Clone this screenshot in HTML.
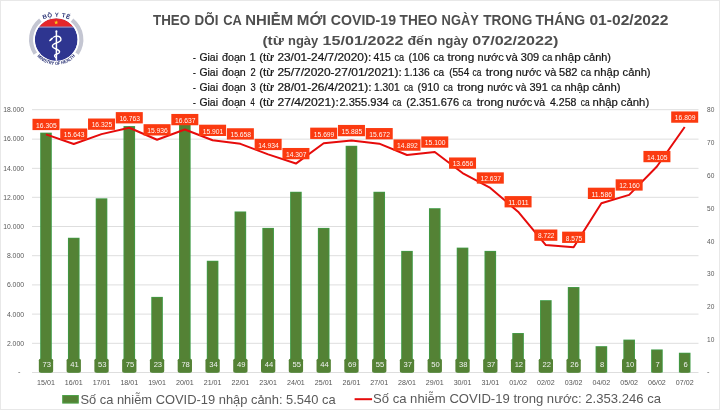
<!DOCTYPE html><html><head><meta charset="utf-8"><style>html,body{margin:0;padding:0;background:#fff}svg{display:block;will-change:transform}text{font-family:"Liberation Sans",sans-serif}</style></head><body>
<svg width="720" height="410" viewBox="0 0 720 410">
<rect x="0" y="0" width="720" height="410" fill="#fff"/>
<rect x="0.5" y="0.5" width="719" height="409" fill="none" stroke="#e8e8e8" stroke-width="1"/>
<g>
<path d="M 33.65 54.81 A 27.2 27.2 0 0 1 39.08 18.46 L 41.66 21.65 A 23.1 23.1 0 0 0 37.05 52.52 Z" fill="#c4c6d2"/>
<path d="M 73.32 18.46 A 27.2 27.2 0 0 1 78.75 54.81 L 75.35 52.52 A 23.1 23.1 0 0 0 70.74 21.65 Z" fill="#c4c6d2"/>
<circle cx="56.2" cy="39.6" r="21.4" fill="#2e3590"/>
<clipPath id="lc"><circle cx="56.2" cy="39.6" r="21.4"/></clipPath>
<rect x="34.2" y="17.6" width="44" height="9.1" fill="#e5262a" clip-path="url(#lc)"/>
<rect x="34.2" y="26.700000000000003" width="44" height="0.7" fill="#d8d8ee" clip-path="url(#lc)"/>
<circle cx="56.2" cy="39.6" r="22.0" fill="none" stroke="#fff" stroke-width="1.2"/>
<polygon points="56.20,20.30 56.73,21.77 58.29,21.82 57.06,22.78 57.49,24.28 56.20,23.40 54.91,24.28 55.34,22.78 54.11,21.82 55.67,21.77" fill="#f5d21a"/>
<line x1="56.4" y1="31.5" x2="56.4" y2="60.8" stroke="#fff" stroke-width="1.5"/>
<circle cx="56.4" cy="31.4" r="1.05" fill="#fff"/>
<path d="M 53.2 37.6 C 55 35.2 61.3 35.6 60.9 39.8 C 60.5 43 52.4 42.6 52.4 46 C 52.4 49.4 59.6 48.6 59.6 52 C 59.6 54.4 54.5 53.6 54.5 55.7 C 54.5 57 56.4 57.4 56.4 58.6" fill="none" stroke="#fff" stroke-width="1.35"/>
<ellipse cx="51.1" cy="39.4" rx="2.5" ry="0.95" transform="rotate(-42 51.1 39.4)" fill="#fff"/>
<path id="arct" d="M 35.95 23.18 A 35.3 35.3 0 0 1 76.45 23.18" fill="none"/>
<text font-size="6.0" font-weight="bold" fill="#232c70"><textPath href="#arct" startOffset="50%" text-anchor="middle" textLength="26.6" lengthAdjust="spacing">BỘ Y TẾ</textPath></text>
<path id="arcb" d="M 31.76 46.15 A 25.3 25.3 0 0 0 80.64 46.15" fill="none"/>
<text font-size="4.7" font-weight="bold" fill="#232c70"><textPath href="#arcb" startOffset="50%" text-anchor="middle" textLength="43" lengthAdjust="spacingAndGlyphs">MINISTRY OF HEALTH</textPath></text>
</g>
<text x="153.00" y="25.1" font-size="14.6" font-weight="bold" fill="#4e4e4e" textLength="37.20" lengthAdjust="spacingAndGlyphs">THEO</text>
<text x="194.60" y="25.1" font-size="14.6" font-weight="bold" fill="#4e4e4e" textLength="23.80" lengthAdjust="spacingAndGlyphs">DÕI</text>
<text x="223.20" y="25.1" font-size="14.6" font-weight="bold" fill="#4e4e4e" textLength="18.60" lengthAdjust="spacingAndGlyphs">CA</text>
<text x="245.20" y="25.1" font-size="14.6" font-weight="bold" fill="#4e4e4e" textLength="48.00" lengthAdjust="spacingAndGlyphs">NHIỄM</text>
<text x="296.80" y="25.1" font-size="14.6" font-weight="bold" fill="#4e4e4e" textLength="29.80" lengthAdjust="spacingAndGlyphs">MỚI</text>
<text x="330.80" y="25.1" font-size="14.6" font-weight="bold" fill="#4e4e4e" textLength="65.20" lengthAdjust="spacingAndGlyphs">COVID-19</text>
<text x="399.60" y="25.1" font-size="14.6" font-weight="bold" fill="#4e4e4e" textLength="37.80" lengthAdjust="spacingAndGlyphs">THEO</text>
<text x="441.60" y="25.1" font-size="14.6" font-weight="bold" fill="#4e4e4e" textLength="37.20" lengthAdjust="spacingAndGlyphs">NGÀY</text>
<text x="483.20" y="25.1" font-size="14.6" font-weight="bold" fill="#4e4e4e" textLength="49.00" lengthAdjust="spacingAndGlyphs">TRONG</text>
<text x="535.60" y="25.1" font-size="14.6" font-weight="bold" fill="#4e4e4e" textLength="49.60" lengthAdjust="spacingAndGlyphs">THÁNG</text>
<text x="589.40" y="25.1" font-size="14.6" font-weight="bold" fill="#4e4e4e" textLength="79.00" lengthAdjust="spacingAndGlyphs">01-02/2022</text>
<text x="262.40" y="45.1" font-size="13.4" font-weight="bold" fill="#4e4e4e" textLength="21.40" lengthAdjust="spacingAndGlyphs">(từ</text>
<text x="288.00" y="45.1" font-size="13.4" font-weight="bold" fill="#4e4e4e" textLength="30.20" lengthAdjust="spacingAndGlyphs">ngày</text>
<text x="322.60" y="45.1" font-size="13.4" font-weight="bold" fill="#4e4e4e" textLength="80.80" lengthAdjust="spacingAndGlyphs">15/01/2022</text>
<text x="407.40" y="45.1" font-size="13.4" font-weight="bold" fill="#4e4e4e" textLength="25.20" lengthAdjust="spacingAndGlyphs">đến</text>
<text x="437.20" y="45.1" font-size="13.4" font-weight="bold" fill="#4e4e4e" textLength="31.00" lengthAdjust="spacingAndGlyphs">ngày</text>
<text x="472.20" y="45.1" font-size="13.4" font-weight="bold" fill="#4e4e4e" textLength="86.20" lengthAdjust="spacingAndGlyphs">07/02/2022)</text>
<text x="193.00" y="61.2" font-size="10.0" fill="#161616" stroke="#161616" stroke-width="0.2" textLength="2.80" lengthAdjust="spacingAndGlyphs">-</text>
<text x="199.40" y="61.2" font-size="10.0" fill="#161616" stroke="#161616" stroke-width="0.2" textLength="18.60" lengthAdjust="spacingAndGlyphs">Giai</text>
<text x="222.00" y="61.2" font-size="10.0" fill="#161616" stroke="#161616" stroke-width="0.2" textLength="23.80" lengthAdjust="spacingAndGlyphs">đoạn</text>
<text x="249.60" y="61.2" font-size="10.0" fill="#161616" stroke="#161616" stroke-width="0.2" textLength="6.20" lengthAdjust="spacingAndGlyphs">1</text>
<text x="259.20" y="61.2" font-size="10.0" fill="#161616" stroke="#161616" stroke-width="0.2" textLength="15.00" lengthAdjust="spacingAndGlyphs">(từ</text>
<text x="277.40" y="61.2" font-size="10.0" fill="#161616" stroke="#161616" stroke-width="0.2" textLength="93.80" lengthAdjust="spacingAndGlyphs">23/01-24/7/2020):</text>
<text x="373.40" y="61.2" font-size="10.0" fill="#161616" stroke="#161616" stroke-width="0.2" textLength="17.40" lengthAdjust="spacingAndGlyphs">415</text>
<text x="394.40" y="61.2" font-size="10.0" fill="#161616" stroke="#161616" stroke-width="0.2" textLength="9.60" lengthAdjust="spacingAndGlyphs">ca</text>
<text x="408.40" y="61.2" font-size="10.0" fill="#161616" stroke="#161616" stroke-width="0.2" textLength="21.20" lengthAdjust="spacingAndGlyphs">(106</text>
<text x="433.40" y="61.2" font-size="10.0" fill="#161616" stroke="#161616" stroke-width="0.2" textLength="10.60" lengthAdjust="spacingAndGlyphs">ca</text>
<text x="447.40" y="61.2" font-size="10.0" fill="#161616" stroke="#161616" stroke-width="0.2" textLength="26.80" lengthAdjust="spacingAndGlyphs">trong</text>
<text x="477.60" y="61.2" font-size="10.0" fill="#161616" stroke="#161616" stroke-width="0.2" textLength="26.20" lengthAdjust="spacingAndGlyphs">nước</text>
<text x="505.80" y="61.2" font-size="10.0" fill="#161616" stroke="#161616" stroke-width="0.2" textLength="12.00" lengthAdjust="spacingAndGlyphs">và</text>
<text x="520.80" y="61.2" font-size="10.0" fill="#161616" stroke="#161616" stroke-width="0.2" textLength="18.40" lengthAdjust="spacingAndGlyphs">309</text>
<text x="542.20" y="61.2" font-size="10.0" fill="#161616" stroke="#161616" stroke-width="0.2" textLength="10.20" lengthAdjust="spacingAndGlyphs">ca</text>
<text x="554.80" y="61.2" font-size="10.0" fill="#161616" stroke="#161616" stroke-width="0.2" textLength="25.80" lengthAdjust="spacingAndGlyphs">nhập</text>
<text x="583.60" y="61.2" font-size="10.0" fill="#161616" stroke="#161616" stroke-width="0.2" textLength="27.40" lengthAdjust="spacingAndGlyphs">cảnh)</text>
<text x="193.00" y="75.8" font-size="10.0" fill="#161616" stroke="#161616" stroke-width="0.2" textLength="2.80" lengthAdjust="spacingAndGlyphs">-</text>
<text x="199.40" y="75.8" font-size="10.0" fill="#161616" stroke="#161616" stroke-width="0.2" textLength="18.60" lengthAdjust="spacingAndGlyphs">Giai</text>
<text x="222.00" y="75.8" font-size="10.0" fill="#161616" stroke="#161616" stroke-width="0.2" textLength="23.80" lengthAdjust="spacingAndGlyphs">đoạn</text>
<text x="250.60" y="75.8" font-size="10.0" fill="#161616" stroke="#161616" stroke-width="0.2" textLength="5.20" lengthAdjust="spacingAndGlyphs">2</text>
<text x="259.20" y="75.8" font-size="10.0" fill="#161616" stroke="#161616" stroke-width="0.2" textLength="15.00" lengthAdjust="spacingAndGlyphs">(từ</text>
<text x="277.40" y="75.8" font-size="10.0" fill="#161616" stroke="#161616" stroke-width="0.2" textLength="124.40" lengthAdjust="spacingAndGlyphs">25/7/2020-27/01/2021):</text>
<text x="404.00" y="75.8" font-size="10.0" fill="#161616" stroke="#161616" stroke-width="0.2" textLength="25.60" lengthAdjust="spacingAndGlyphs">1.136</text>
<text x="433.40" y="75.8" font-size="10.0" fill="#161616" stroke="#161616" stroke-width="0.2" textLength="10.60" lengthAdjust="spacingAndGlyphs">ca</text>
<text x="449.20" y="75.8" font-size="10.0" fill="#161616" stroke="#161616" stroke-width="0.2" textLength="20.00" lengthAdjust="spacingAndGlyphs">(554</text>
<text x="472.60" y="75.8" font-size="10.0" fill="#161616" stroke="#161616" stroke-width="0.2" textLength="8.80" lengthAdjust="spacingAndGlyphs">ca</text>
<text x="485.80" y="75.8" font-size="10.0" fill="#161616" stroke="#161616" stroke-width="0.2" textLength="27.00" lengthAdjust="spacingAndGlyphs">trong</text>
<text x="515.80" y="75.8" font-size="10.0" fill="#161616" stroke="#161616" stroke-width="0.2" textLength="25.60" lengthAdjust="spacingAndGlyphs">nước</text>
<text x="544.80" y="75.8" font-size="10.0" fill="#161616" stroke="#161616" stroke-width="0.2" textLength="11.60" lengthAdjust="spacingAndGlyphs">và</text>
<text x="559.00" y="75.8" font-size="10.0" fill="#161616" stroke="#161616" stroke-width="0.2" textLength="18.40" lengthAdjust="spacingAndGlyphs">582</text>
<text x="580.80" y="75.8" font-size="10.0" fill="#161616" stroke="#161616" stroke-width="0.2" textLength="10.20" lengthAdjust="spacingAndGlyphs">ca</text>
<text x="594.00" y="75.8" font-size="10.0" fill="#161616" stroke="#161616" stroke-width="0.2" textLength="25.20" lengthAdjust="spacingAndGlyphs">nhập</text>
<text x="622.60" y="75.8" font-size="10.0" fill="#161616" stroke="#161616" stroke-width="0.2" textLength="28.00" lengthAdjust="spacingAndGlyphs">cảnh)</text>
<text x="193.00" y="91.0" font-size="10.0" fill="#161616" stroke="#161616" stroke-width="0.2" textLength="2.80" lengthAdjust="spacingAndGlyphs">-</text>
<text x="199.40" y="91.0" font-size="10.0" fill="#161616" stroke="#161616" stroke-width="0.2" textLength="18.60" lengthAdjust="spacingAndGlyphs">Giai</text>
<text x="222.00" y="91.0" font-size="10.0" fill="#161616" stroke="#161616" stroke-width="0.2" textLength="23.80" lengthAdjust="spacingAndGlyphs">đoạn</text>
<text x="250.60" y="91.0" font-size="10.0" fill="#161616" stroke="#161616" stroke-width="0.2" textLength="5.20" lengthAdjust="spacingAndGlyphs">3</text>
<text x="259.20" y="91.0" font-size="10.0" fill="#161616" stroke="#161616" stroke-width="0.2" textLength="15.00" lengthAdjust="spacingAndGlyphs">(từ</text>
<text x="277.40" y="91.0" font-size="10.0" fill="#161616" stroke="#161616" stroke-width="0.2" textLength="94.20" lengthAdjust="spacingAndGlyphs">28/01-26/4/2021):</text>
<text x="374.00" y="91.0" font-size="10.0" fill="#161616" stroke="#161616" stroke-width="0.2" textLength="25.60" lengthAdjust="spacingAndGlyphs">1.301</text>
<text x="404.00" y="91.0" font-size="10.0" fill="#161616" stroke="#161616" stroke-width="0.2" textLength="9.20" lengthAdjust="spacingAndGlyphs">ca</text>
<text x="417.60" y="91.0" font-size="10.0" fill="#161616" stroke="#161616" stroke-width="0.2" textLength="21.60" lengthAdjust="spacingAndGlyphs">(910</text>
<text x="443.60" y="91.0" font-size="10.0" fill="#161616" stroke="#161616" stroke-width="0.2" textLength="9.20" lengthAdjust="spacingAndGlyphs">ca</text>
<text x="457.20" y="91.0" font-size="10.0" fill="#161616" stroke="#161616" stroke-width="0.2" textLength="26.60" lengthAdjust="spacingAndGlyphs">trong</text>
<text x="487.20" y="91.0" font-size="10.0" fill="#161616" stroke="#161616" stroke-width="0.2" textLength="25.60" lengthAdjust="spacingAndGlyphs">nước</text>
<text x="515.60" y="91.0" font-size="10.0" fill="#161616" stroke="#161616" stroke-width="0.2" textLength="10.80" lengthAdjust="spacingAndGlyphs">và</text>
<text x="529.40" y="91.0" font-size="10.0" fill="#161616" stroke="#161616" stroke-width="0.2" textLength="18.40" lengthAdjust="spacingAndGlyphs">391</text>
<text x="551.20" y="91.0" font-size="10.0" fill="#161616" stroke="#161616" stroke-width="0.2" textLength="10.20" lengthAdjust="spacingAndGlyphs">ca</text>
<text x="564.40" y="91.0" font-size="10.0" fill="#161616" stroke="#161616" stroke-width="0.2" textLength="24.80" lengthAdjust="spacingAndGlyphs">nhập</text>
<text x="592.20" y="91.0" font-size="10.0" fill="#161616" stroke="#161616" stroke-width="0.2" textLength="28.40" lengthAdjust="spacingAndGlyphs">cảnh)</text>
<text x="193.00" y="105.6" font-size="10.0" fill="#161616" stroke="#161616" stroke-width="0.2" textLength="2.80" lengthAdjust="spacingAndGlyphs">-</text>
<text x="199.40" y="105.6" font-size="10.0" fill="#161616" stroke="#161616" stroke-width="0.2" textLength="18.60" lengthAdjust="spacingAndGlyphs">Giai</text>
<text x="222.00" y="105.6" font-size="10.0" fill="#161616" stroke="#161616" stroke-width="0.2" textLength="23.80" lengthAdjust="spacingAndGlyphs">đoạn</text>
<text x="250.60" y="105.6" font-size="10.0" fill="#161616" stroke="#161616" stroke-width="0.2" textLength="4.20" lengthAdjust="spacingAndGlyphs">4</text>
<text x="259.20" y="105.6" font-size="10.0" fill="#161616" stroke="#161616" stroke-width="0.2" textLength="15.00" lengthAdjust="spacingAndGlyphs">(từ</text>
<text x="277.40" y="105.6" font-size="10.0" fill="#161616" stroke="#161616" stroke-width="0.2" textLength="61.40" lengthAdjust="spacingAndGlyphs">27/4/2021):</text>
<text x="339.40" y="105.6" font-size="10.0" fill="#161616" stroke="#161616" stroke-width="0.2" textLength="49.40" lengthAdjust="spacingAndGlyphs">2.355.934</text>
<text x="392.60" y="105.6" font-size="10.0" fill="#161616" stroke="#161616" stroke-width="0.2" textLength="8.80" lengthAdjust="spacingAndGlyphs">ca</text>
<text x="406.20" y="105.6" font-size="10.0" fill="#161616" stroke="#161616" stroke-width="0.2" textLength="53.00" lengthAdjust="spacingAndGlyphs">(2.351.676</text>
<text x="462.60" y="105.6" font-size="10.0" fill="#161616" stroke="#161616" stroke-width="0.2" textLength="8.80" lengthAdjust="spacingAndGlyphs">ca</text>
<text x="476.80" y="105.6" font-size="10.0" fill="#161616" stroke="#161616" stroke-width="0.2" textLength="26.80" lengthAdjust="spacingAndGlyphs">trong</text>
<text x="506.20" y="105.6" font-size="10.0" fill="#161616" stroke="#161616" stroke-width="0.2" textLength="26.20" lengthAdjust="spacingAndGlyphs">nước</text>
<text x="534.00" y="105.6" font-size="10.0" fill="#161616" stroke="#161616" stroke-width="0.2" textLength="11.00" lengthAdjust="spacingAndGlyphs">và</text>
<text x="550.00" y="105.6" font-size="10.0" fill="#161616" stroke="#161616" stroke-width="0.2" textLength="26.40" lengthAdjust="spacingAndGlyphs">4.258</text>
<text x="580.80" y="105.6" font-size="10.0" fill="#161616" stroke="#161616" stroke-width="0.2" textLength="8.80" lengthAdjust="spacingAndGlyphs">ca</text>
<text x="592.60" y="105.6" font-size="10.0" fill="#161616" stroke="#161616" stroke-width="0.2" textLength="25.20" lengthAdjust="spacingAndGlyphs">nhập</text>
<text x="620.80" y="105.6" font-size="10.0" fill="#161616" stroke="#161616" stroke-width="0.2" textLength="28.40" lengthAdjust="spacingAndGlyphs">cảnh)</text>
<line x1="32" y1="372.50" x2="698.5" y2="372.50" stroke="#dedede" stroke-width="1"/>
<line x1="32" y1="343.30" x2="698.5" y2="343.30" stroke="#dedede" stroke-width="1"/>
<line x1="32" y1="314.10" x2="698.5" y2="314.10" stroke="#dedede" stroke-width="1"/>
<line x1="32" y1="284.90" x2="698.5" y2="284.90" stroke="#dedede" stroke-width="1"/>
<line x1="32" y1="255.70" x2="698.5" y2="255.70" stroke="#dedede" stroke-width="1"/>
<line x1="32" y1="226.50" x2="698.5" y2="226.50" stroke="#dedede" stroke-width="1"/>
<line x1="32" y1="197.30" x2="698.5" y2="197.30" stroke="#dedede" stroke-width="1"/>
<line x1="32" y1="168.35" x2="698.5" y2="168.35" stroke="#dedede" stroke-width="1"/>
<line x1="32" y1="139.15" x2="698.5" y2="139.15" stroke="#dedede" stroke-width="1"/>
<line x1="32" y1="109.70" x2="698.5" y2="109.70" stroke="#dedede" stroke-width="1"/>
<text x="20.4" y="374.4" font-size="7.4" fill="#595959" text-anchor="end">-</text>
<text x="24.1" y="345.8" font-size="7" fill="#595959" text-anchor="end" textLength="17.2" lengthAdjust="spacingAndGlyphs">2.000</text>
<text x="24.1" y="316.6" font-size="7" fill="#595959" text-anchor="end" textLength="17.2" lengthAdjust="spacingAndGlyphs">4.000</text>
<text x="24.1" y="287.4" font-size="7" fill="#595959" text-anchor="end" textLength="17.2" lengthAdjust="spacingAndGlyphs">6.000</text>
<text x="24.1" y="258.1" font-size="7" fill="#595959" text-anchor="end" textLength="17.2" lengthAdjust="spacingAndGlyphs">8.000</text>
<text x="24.1" y="228.9" font-size="7" fill="#595959" text-anchor="end" textLength="20.8" lengthAdjust="spacingAndGlyphs">10.000</text>
<text x="24.1" y="199.8" font-size="7" fill="#595959" text-anchor="end" textLength="20.8" lengthAdjust="spacingAndGlyphs">12.000</text>
<text x="24.1" y="170.5" font-size="7" fill="#595959" text-anchor="end" textLength="20.8" lengthAdjust="spacingAndGlyphs">14.000</text>
<text x="24.1" y="141.3" font-size="7" fill="#595959" text-anchor="end" textLength="20.8" lengthAdjust="spacingAndGlyphs">16.000</text>
<text x="24.1" y="112.1" font-size="7" fill="#595959" text-anchor="end" textLength="20.8" lengthAdjust="spacingAndGlyphs">18.000</text>
<text x="707" y="374.4" font-size="7.4" fill="#595959">-</text>
<text x="707" y="342.1" font-size="7" fill="#595959" textLength="7.3" lengthAdjust="spacingAndGlyphs">10</text>
<text x="707" y="309.2" font-size="7" fill="#595959" textLength="7.3" lengthAdjust="spacingAndGlyphs">20</text>
<text x="707" y="276.4" font-size="7" fill="#595959" textLength="7.3" lengthAdjust="spacingAndGlyphs">30</text>
<text x="707" y="243.5" font-size="7" fill="#595959" textLength="7.3" lengthAdjust="spacingAndGlyphs">40</text>
<text x="707" y="210.7" font-size="7" fill="#595959" textLength="7.3" lengthAdjust="spacingAndGlyphs">50</text>
<text x="707" y="177.8" font-size="7" fill="#595959" textLength="7.3" lengthAdjust="spacingAndGlyphs">60</text>
<text x="707" y="145.0" font-size="7" fill="#595959" textLength="7.3" lengthAdjust="spacingAndGlyphs">70</text>
<text x="707" y="112.1" font-size="7" fill="#595959" textLength="7.3" lengthAdjust="spacingAndGlyphs">80</text>
<rect x="40.19" y="132.64" width="11.6" height="239.81" fill="#3f9b45"/>
<rect x="41.09" y="133.44" width="9.8" height="239.00" fill="#548235"/>
<rect x="67.95" y="237.76" width="11.6" height="134.69" fill="#3f9b45"/>
<rect x="68.85" y="238.56" width="9.8" height="133.88" fill="#548235"/>
<rect x="95.73" y="198.34" width="11.6" height="174.10" fill="#3f9b45"/>
<rect x="96.62" y="199.15" width="9.8" height="173.30" fill="#548235"/>
<rect x="123.49" y="126.07" width="11.6" height="246.38" fill="#3f9b45"/>
<rect x="124.39" y="126.87" width="9.8" height="245.57" fill="#548235"/>
<rect x="151.26" y="296.89" width="11.6" height="75.56" fill="#3f9b45"/>
<rect x="152.16" y="297.69" width="9.8" height="74.76" fill="#548235"/>
<rect x="179.03" y="116.22" width="11.6" height="256.23" fill="#3f9b45"/>
<rect x="179.93" y="117.02" width="9.8" height="255.43" fill="#548235"/>
<rect x="206.80" y="260.76" width="11.6" height="111.69" fill="#3f9b45"/>
<rect x="207.70" y="261.56" width="9.8" height="110.89" fill="#548235"/>
<rect x="234.57" y="211.48" width="11.6" height="160.97" fill="#3f9b45"/>
<rect x="235.47" y="212.28" width="9.8" height="160.17" fill="#548235"/>
<rect x="262.34" y="227.91" width="11.6" height="144.54" fill="#3f9b45"/>
<rect x="263.25" y="228.71" width="9.8" height="143.74" fill="#548235"/>
<rect x="290.12" y="191.77" width="11.6" height="180.68" fill="#3f9b45"/>
<rect x="291.02" y="192.57" width="9.8" height="179.88" fill="#548235"/>
<rect x="317.88" y="227.91" width="11.6" height="144.54" fill="#3f9b45"/>
<rect x="318.79" y="228.71" width="9.8" height="143.74" fill="#548235"/>
<rect x="345.66" y="145.78" width="11.6" height="226.67" fill="#3f9b45"/>
<rect x="346.56" y="146.58" width="9.8" height="225.87" fill="#548235"/>
<rect x="373.43" y="191.77" width="11.6" height="180.68" fill="#3f9b45"/>
<rect x="374.33" y="192.57" width="9.8" height="179.88" fill="#548235"/>
<rect x="401.19" y="250.90" width="11.6" height="121.55" fill="#3f9b45"/>
<rect x="402.10" y="251.70" width="9.8" height="120.75" fill="#548235"/>
<rect x="428.97" y="208.20" width="11.6" height="164.25" fill="#3f9b45"/>
<rect x="429.87" y="209.00" width="9.8" height="163.45" fill="#548235"/>
<rect x="456.74" y="247.62" width="11.6" height="124.83" fill="#3f9b45"/>
<rect x="457.64" y="248.42" width="9.8" height="124.03" fill="#548235"/>
<rect x="484.50" y="250.90" width="11.6" height="121.55" fill="#3f9b45"/>
<rect x="485.41" y="251.70" width="9.8" height="120.75" fill="#548235"/>
<rect x="512.27" y="333.03" width="11.6" height="39.42" fill="#3f9b45"/>
<rect x="513.17" y="333.83" width="9.8" height="38.62" fill="#548235"/>
<rect x="540.05" y="300.18" width="11.6" height="72.27" fill="#3f9b45"/>
<rect x="540.95" y="300.98" width="9.8" height="71.47" fill="#548235"/>
<rect x="567.82" y="287.04" width="11.6" height="85.41" fill="#3f9b45"/>
<rect x="568.72" y="287.84" width="9.8" height="84.61" fill="#548235"/>
<rect x="595.59" y="346.17" width="11.6" height="26.28" fill="#3f9b45"/>
<rect x="596.49" y="346.97" width="9.8" height="25.48" fill="#548235"/>
<rect x="623.36" y="339.60" width="11.6" height="32.85" fill="#3f9b45"/>
<rect x="624.25" y="340.40" width="9.8" height="32.05" fill="#548235"/>
<rect x="651.13" y="349.45" width="11.6" height="23.00" fill="#3f9b45"/>
<rect x="652.03" y="350.25" width="9.8" height="22.20" fill="#548235"/>
<rect x="678.90" y="352.74" width="11.6" height="19.71" fill="#3f9b45"/>
<rect x="679.80" y="353.54" width="9.8" height="18.91" fill="#548235"/>
<rect x="38.84" y="358.7" width="14.3" height="13.7" rx="1.5" fill="#548235"/>
<text x="46.78" y="367.3" font-size="7.6" fill="#f2f2f2" text-anchor="middle">73</text>
<rect x="66.60" y="358.7" width="14.3" height="13.7" rx="1.5" fill="#548235"/>
<text x="74.55" y="367.3" font-size="7.6" fill="#f2f2f2" text-anchor="middle">41</text>
<rect x="94.38" y="358.7" width="14.3" height="13.7" rx="1.5" fill="#548235"/>
<text x="102.33" y="367.3" font-size="7.6" fill="#f2f2f2" text-anchor="middle">53</text>
<rect x="122.14" y="358.7" width="14.3" height="13.7" rx="1.5" fill="#548235"/>
<text x="130.09" y="367.3" font-size="7.6" fill="#f2f2f2" text-anchor="middle">75</text>
<rect x="149.91" y="358.7" width="14.3" height="13.7" rx="1.5" fill="#548235"/>
<text x="157.87" y="367.3" font-size="7.6" fill="#f2f2f2" text-anchor="middle">23</text>
<rect x="177.68" y="358.7" width="14.3" height="13.7" rx="1.5" fill="#548235"/>
<text x="185.63" y="367.3" font-size="7.6" fill="#f2f2f2" text-anchor="middle">78</text>
<rect x="205.45" y="358.7" width="14.3" height="13.7" rx="1.5" fill="#548235"/>
<text x="213.41" y="367.3" font-size="7.6" fill="#f2f2f2" text-anchor="middle">34</text>
<rect x="233.22" y="358.7" width="14.3" height="13.7" rx="1.5" fill="#548235"/>
<text x="241.18" y="367.3" font-size="7.6" fill="#f2f2f2" text-anchor="middle">49</text>
<rect x="261.00" y="358.7" width="14.3" height="13.7" rx="1.5" fill="#548235"/>
<text x="268.94" y="367.3" font-size="7.6" fill="#f2f2f2" text-anchor="middle">44</text>
<rect x="288.77" y="358.7" width="14.3" height="13.7" rx="1.5" fill="#548235"/>
<text x="296.72" y="367.3" font-size="7.6" fill="#f2f2f2" text-anchor="middle">55</text>
<rect x="316.54" y="358.7" width="14.3" height="13.7" rx="1.5" fill="#548235"/>
<text x="324.49" y="367.3" font-size="7.6" fill="#f2f2f2" text-anchor="middle">44</text>
<rect x="344.31" y="358.7" width="14.3" height="13.7" rx="1.5" fill="#548235"/>
<text x="352.26" y="367.3" font-size="7.6" fill="#f2f2f2" text-anchor="middle">69</text>
<rect x="372.08" y="358.7" width="14.3" height="13.7" rx="1.5" fill="#548235"/>
<text x="380.03" y="367.3" font-size="7.6" fill="#f2f2f2" text-anchor="middle">55</text>
<rect x="399.85" y="358.7" width="14.3" height="13.7" rx="1.5" fill="#548235"/>
<text x="407.80" y="367.3" font-size="7.6" fill="#f2f2f2" text-anchor="middle">37</text>
<rect x="427.62" y="358.7" width="14.3" height="13.7" rx="1.5" fill="#548235"/>
<text x="435.57" y="367.3" font-size="7.6" fill="#f2f2f2" text-anchor="middle">50</text>
<rect x="455.39" y="358.7" width="14.3" height="13.7" rx="1.5" fill="#548235"/>
<text x="463.34" y="367.3" font-size="7.6" fill="#f2f2f2" text-anchor="middle">38</text>
<rect x="483.16" y="358.7" width="14.3" height="13.7" rx="1.5" fill="#548235"/>
<text x="491.11" y="367.3" font-size="7.6" fill="#f2f2f2" text-anchor="middle">37</text>
<rect x="510.92" y="358.7" width="14.3" height="13.7" rx="1.5" fill="#548235"/>
<text x="518.87" y="367.3" font-size="7.6" fill="#f2f2f2" text-anchor="middle">12</text>
<rect x="538.70" y="358.7" width="14.3" height="13.7" rx="1.5" fill="#548235"/>
<text x="546.64" y="367.3" font-size="7.6" fill="#f2f2f2" text-anchor="middle">22</text>
<rect x="566.47" y="358.7" width="14.3" height="13.7" rx="1.5" fill="#548235"/>
<text x="574.41" y="367.3" font-size="7.6" fill="#f2f2f2" text-anchor="middle">26</text>
<rect x="596.88" y="358.7" width="9" height="13.7" rx="1.5" fill="#548235"/>
<text x="602.18" y="367.3" font-size="7.6" fill="#f2f2f2" text-anchor="middle">8</text>
<rect x="622.00" y="358.7" width="14.3" height="13.7" rx="1.5" fill="#548235"/>
<text x="629.95" y="367.3" font-size="7.6" fill="#f2f2f2" text-anchor="middle">10</text>
<rect x="652.43" y="358.7" width="9" height="13.7" rx="1.5" fill="#548235"/>
<text x="657.73" y="367.3" font-size="7.6" fill="#f2f2f2" text-anchor="middle">7</text>
<rect x="680.20" y="358.7" width="9" height="13.7" rx="1.5" fill="#548235"/>
<text x="685.50" y="367.3" font-size="7.6" fill="#f2f2f2" text-anchor="middle">6</text>
<polyline points="45.98,134.40 73.75,144.06 101.53,134.11 129.29,127.71 157.06,139.78 184.83,129.55 212.60,140.30 240.38,143.84 268.14,154.41 295.92,163.57 323.69,143.24 351.46,140.53 379.23,143.64 407.00,155.03 434.77,151.99 462.54,173.07 490.31,187.95 518.07,211.69 545.85,245.11 573.62,247.25 601.38,203.29 629.15,194.91 656.93,166.52 684.70,127.04" fill="none" stroke="#e60b0b" stroke-width="2" stroke-linejoin="round"/>
<rect x="32.48" y="118.80" width="27" height="11.3" fill="#fb3a10"/>
<text x="46.38" y="127.70" font-size="7.3" fill="#fff8f4" text-anchor="middle" textLength="20.6" lengthAdjust="spacingAndGlyphs">16.305</text>
<rect x="60.25" y="128.46" width="27" height="11.3" fill="#fb3a10"/>
<text x="74.16" y="137.36" font-size="7.3" fill="#fff8f4" text-anchor="middle" textLength="20.6" lengthAdjust="spacingAndGlyphs">15.643</text>
<rect x="88.03" y="118.51" width="27" height="11.3" fill="#fb3a10"/>
<text x="101.93" y="127.41" font-size="7.3" fill="#fff8f4" text-anchor="middle" textLength="20.6" lengthAdjust="spacingAndGlyphs">16.325</text>
<rect x="115.79" y="112.11" width="27" height="11.3" fill="#fb3a10"/>
<text x="129.69" y="121.01" font-size="7.3" fill="#fff8f4" text-anchor="middle" textLength="20.6" lengthAdjust="spacingAndGlyphs">16.763</text>
<rect x="143.56" y="124.18" width="27" height="11.3" fill="#fb3a10"/>
<text x="157.47" y="133.08" font-size="7.3" fill="#fff8f4" text-anchor="middle" textLength="20.6" lengthAdjust="spacingAndGlyphs">15.936</text>
<rect x="171.33" y="113.95" width="27" height="11.3" fill="#fb3a10"/>
<text x="185.23" y="122.85" font-size="7.3" fill="#fff8f4" text-anchor="middle" textLength="20.6" lengthAdjust="spacingAndGlyphs">16.637</text>
<rect x="199.10" y="124.70" width="27" height="11.3" fill="#fb3a10"/>
<text x="213.00" y="133.60" font-size="7.3" fill="#fff8f4" text-anchor="middle" textLength="20.6" lengthAdjust="spacingAndGlyphs">15.901</text>
<rect x="226.88" y="128.24" width="27" height="11.3" fill="#fb3a10"/>
<text x="240.78" y="137.14" font-size="7.3" fill="#fff8f4" text-anchor="middle" textLength="20.6" lengthAdjust="spacingAndGlyphs">15.658</text>
<rect x="254.64" y="138.81" width="27" height="11.3" fill="#fb3a10"/>
<text x="268.54" y="147.71" font-size="7.3" fill="#fff8f4" text-anchor="middle" textLength="20.6" lengthAdjust="spacingAndGlyphs">14.934</text>
<rect x="282.42" y="147.97" width="27" height="11.3" fill="#fb3a10"/>
<text x="296.31" y="156.87" font-size="7.3" fill="#fff8f4" text-anchor="middle" textLength="20.6" lengthAdjust="spacingAndGlyphs">14.307</text>
<rect x="310.19" y="127.64" width="27" height="11.3" fill="#fb3a10"/>
<text x="324.08" y="136.54" font-size="7.3" fill="#fff8f4" text-anchor="middle" textLength="20.6" lengthAdjust="spacingAndGlyphs">15.699</text>
<rect x="337.96" y="124.93" width="27" height="11.3" fill="#fb3a10"/>
<text x="351.86" y="133.83" font-size="7.3" fill="#fff8f4" text-anchor="middle" textLength="20.6" lengthAdjust="spacingAndGlyphs">15.885</text>
<rect x="365.73" y="128.04" width="27" height="11.3" fill="#fb3a10"/>
<text x="379.62" y="136.94" font-size="7.3" fill="#fff8f4" text-anchor="middle" textLength="20.6" lengthAdjust="spacingAndGlyphs">15.672</text>
<rect x="393.50" y="139.43" width="27" height="11.3" fill="#fb3a10"/>
<text x="407.39" y="148.33" font-size="7.3" fill="#fff8f4" text-anchor="middle" textLength="20.6" lengthAdjust="spacingAndGlyphs">14.892</text>
<rect x="421.27" y="136.39" width="27" height="11.3" fill="#fb3a10"/>
<text x="435.17" y="145.29" font-size="7.3" fill="#fff8f4" text-anchor="middle" textLength="20.6" lengthAdjust="spacingAndGlyphs">15.100</text>
<rect x="449.04" y="157.47" width="27" height="11.3" fill="#fb3a10"/>
<text x="462.94" y="166.37" font-size="7.3" fill="#fff8f4" text-anchor="middle" textLength="20.6" lengthAdjust="spacingAndGlyphs">13.656</text>
<rect x="476.81" y="172.35" width="27" height="11.3" fill="#fb3a10"/>
<text x="490.70" y="181.25" font-size="7.3" fill="#fff8f4" text-anchor="middle" textLength="20.6" lengthAdjust="spacingAndGlyphs">12.637</text>
<rect x="504.57" y="196.09" width="27" height="11.3" fill="#fb3a10"/>
<text x="518.47" y="204.99" font-size="7.3" fill="#fff8f4" text-anchor="middle" textLength="20.6" lengthAdjust="spacingAndGlyphs">11.011</text>
<rect x="534.35" y="229.51" width="23" height="11.3" fill="#fb3a10"/>
<text x="546.25" y="238.41" font-size="7.3" fill="#fff8f4" text-anchor="middle" textLength="16.4" lengthAdjust="spacingAndGlyphs">8.722</text>
<rect x="562.12" y="231.65" width="23" height="11.3" fill="#fb3a10"/>
<text x="574.01" y="240.55" font-size="7.3" fill="#fff8f4" text-anchor="middle" textLength="16.4" lengthAdjust="spacingAndGlyphs">8.575</text>
<rect x="587.88" y="187.69" width="27" height="11.3" fill="#fb3a10"/>
<text x="601.78" y="196.59" font-size="7.3" fill="#fff8f4" text-anchor="middle" textLength="20.6" lengthAdjust="spacingAndGlyphs">11.586</text>
<rect x="615.65" y="179.31" width="27" height="11.3" fill="#fb3a10"/>
<text x="629.55" y="188.21" font-size="7.3" fill="#fff8f4" text-anchor="middle" textLength="20.6" lengthAdjust="spacingAndGlyphs">12.160</text>
<rect x="643.43" y="150.92" width="27" height="11.3" fill="#fb3a10"/>
<text x="657.33" y="159.82" font-size="7.3" fill="#fff8f4" text-anchor="middle" textLength="20.6" lengthAdjust="spacingAndGlyphs">14.105</text>
<rect x="671.20" y="111.44" width="27" height="11.3" fill="#fb3a10"/>
<text x="685.10" y="120.34" font-size="7.3" fill="#fff8f4" text-anchor="middle" textLength="20.6" lengthAdjust="spacingAndGlyphs">16.809</text>
<text x="45.98" y="384.7" font-size="7.7" fill="#555555" text-anchor="middle" textLength="17.8" lengthAdjust="spacingAndGlyphs">15/01</text>
<text x="73.75" y="384.7" font-size="7.7" fill="#555555" text-anchor="middle" textLength="17.8" lengthAdjust="spacingAndGlyphs">16/01</text>
<text x="101.53" y="384.7" font-size="7.7" fill="#555555" text-anchor="middle" textLength="17.8" lengthAdjust="spacingAndGlyphs">17/01</text>
<text x="129.29" y="384.7" font-size="7.7" fill="#555555" text-anchor="middle" textLength="17.8" lengthAdjust="spacingAndGlyphs">18/01</text>
<text x="157.06" y="384.7" font-size="7.7" fill="#555555" text-anchor="middle" textLength="17.8" lengthAdjust="spacingAndGlyphs">19/01</text>
<text x="184.83" y="384.7" font-size="7.7" fill="#555555" text-anchor="middle" textLength="17.8" lengthAdjust="spacingAndGlyphs">20/01</text>
<text x="212.60" y="384.7" font-size="7.7" fill="#555555" text-anchor="middle" textLength="17.8" lengthAdjust="spacingAndGlyphs">21/01</text>
<text x="240.38" y="384.7" font-size="7.7" fill="#555555" text-anchor="middle" textLength="17.8" lengthAdjust="spacingAndGlyphs">22/01</text>
<text x="268.14" y="384.7" font-size="7.7" fill="#555555" text-anchor="middle" textLength="17.8" lengthAdjust="spacingAndGlyphs">23/01</text>
<text x="295.92" y="384.7" font-size="7.7" fill="#555555" text-anchor="middle" textLength="17.8" lengthAdjust="spacingAndGlyphs">24/01</text>
<text x="323.69" y="384.7" font-size="7.7" fill="#555555" text-anchor="middle" textLength="17.8" lengthAdjust="spacingAndGlyphs">25/01</text>
<text x="351.46" y="384.7" font-size="7.7" fill="#555555" text-anchor="middle" textLength="17.8" lengthAdjust="spacingAndGlyphs">26/01</text>
<text x="379.23" y="384.7" font-size="7.7" fill="#555555" text-anchor="middle" textLength="17.8" lengthAdjust="spacingAndGlyphs">27/01</text>
<text x="407.00" y="384.7" font-size="7.7" fill="#555555" text-anchor="middle" textLength="17.8" lengthAdjust="spacingAndGlyphs">28/01</text>
<text x="434.77" y="384.7" font-size="7.7" fill="#555555" text-anchor="middle" textLength="17.8" lengthAdjust="spacingAndGlyphs">29/01</text>
<text x="462.54" y="384.7" font-size="7.7" fill="#555555" text-anchor="middle" textLength="17.8" lengthAdjust="spacingAndGlyphs">30/01</text>
<text x="490.31" y="384.7" font-size="7.7" fill="#555555" text-anchor="middle" textLength="17.8" lengthAdjust="spacingAndGlyphs">31/01</text>
<text x="518.07" y="384.7" font-size="7.7" fill="#555555" text-anchor="middle" textLength="17.8" lengthAdjust="spacingAndGlyphs">01/02</text>
<text x="545.85" y="384.7" font-size="7.7" fill="#555555" text-anchor="middle" textLength="17.8" lengthAdjust="spacingAndGlyphs">02/02</text>
<text x="573.62" y="384.7" font-size="7.7" fill="#555555" text-anchor="middle" textLength="17.8" lengthAdjust="spacingAndGlyphs">03/02</text>
<text x="601.38" y="384.7" font-size="7.7" fill="#555555" text-anchor="middle" textLength="17.8" lengthAdjust="spacingAndGlyphs">04/02</text>
<text x="629.15" y="384.7" font-size="7.7" fill="#555555" text-anchor="middle" textLength="17.8" lengthAdjust="spacingAndGlyphs">05/02</text>
<text x="656.93" y="384.7" font-size="7.7" fill="#555555" text-anchor="middle" textLength="17.8" lengthAdjust="spacingAndGlyphs">06/02</text>
<text x="684.70" y="384.7" font-size="7.7" fill="#555555" text-anchor="middle" textLength="17.8" lengthAdjust="spacingAndGlyphs">07/02</text>
<rect x="62.7" y="395.5" width="15.6" height="7.6" fill="#548235" stroke="#4ea24a" stroke-width="1"/>
<text x="80.4" y="403.6" font-size="12.7" fill="#595959" textLength="255.2" lengthAdjust="spacingAndGlyphs">Số ca nhiễm COVID-19 nhập cảnh: 5.540 ca</text>
<line x1="354.6" y1="399.2" x2="372.1" y2="399.2" stroke="#e60b0b" stroke-width="2"/>
<text x="373.0" y="402.9" font-size="13.3" fill="#595959" textLength="288.0" lengthAdjust="spacingAndGlyphs">Số ca nhiễm COVID-19 trong nước: 2.353.246 ca</text>
</svg></body></html>
